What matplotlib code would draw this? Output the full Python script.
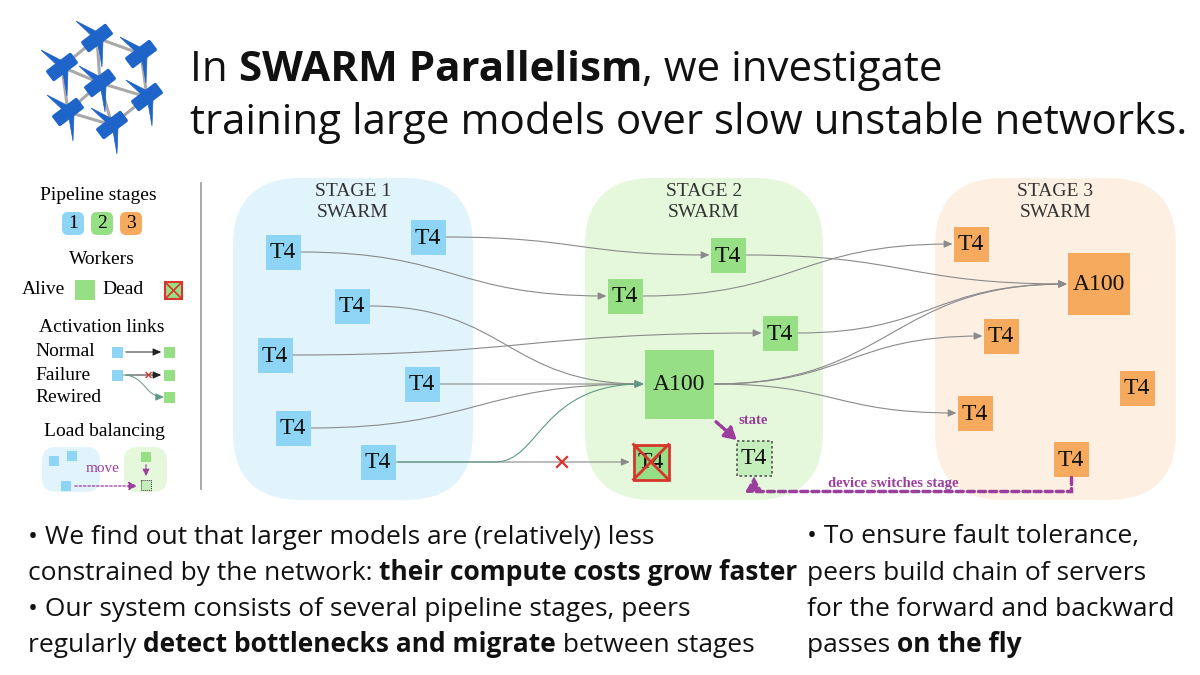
import matplotlib
matplotlib.use("Agg")
import matplotlib.pyplot as plt
from matplotlib.patches import FancyBboxPatch, Rectangle, FancyArrowPatch, Polygon
from matplotlib.path import Path
import numpy as np

SANS = ['Open Sans', 'DejaVu Sans']
SERIF = ['Liberation Serif', 'DejaVu Serif']

# ---- text content ----
title_lines = [
    [("In ", False), ("SWARM Parallelism", True), (", we investigate", False)],
    [("training large models over slow unstable networks.", False)],
]
left_lines = [
    [("\u2022 We find out that larger models are (relatively) less", False)],
    [("constrained by the network: ", False), ("their compute costs grow faster", True)],
    [("\u2022 Our system consists of several pipeline stages, peers", False)],
    [("regularly ", False), ("detect bottlenecks and migrate", True), (" between stages", False)],
]
right_lines = [
    [("\u2022 To ensure fault tolerance,", False)],
    [("peers build chain of servers", False)],
    [("for the forward and backward", False)],
    [("passes ", False), ("on the fly", True)],
]

# ---- diagram data ----
stage_names = ["STAGE 1\nSWARM", "STAGE 2\nSWARM", "STAGE 3\nSWARM"]
stage_left = [233, 585, 935]
stage_right = [473, 823, 1176]
region_colors = ["#e1f4fc", "#e5f8dc", "#fdf0e3"]
node_colors = ["#8dd4f5", "#96df84", "#f5aa5e"]

# name: (label, stage, x, y, size)
nodes = {
    "1a": ("T4", 0, 428, 237, 35), "1b": ("T4", 0, 283, 252, 35),
    "1c": ("T4", 0, 352, 306, 35), "1d": ("T4", 0, 275, 355, 35),
    "1e": ("T4", 0, 422, 384, 35), "1f": ("T4", 0, 293, 428, 35),
    "1g": ("T4", 0, 378, 462, 35),
    "2a": ("T4", 1, 728, 255, 35), "2b": ("T4", 1, 625, 296, 35),
    "2c": ("T4", 1, 780, 333, 35), "2d": ("A100", 1, 679, 384, 69),
    "3a": ("T4", 2, 971, 244, 35), "3b": ("A100", 2, 1099, 284, 62),
    "3c": ("T4", 2, 1001, 336, 35), "3d": ("T4", 2, 1137, 388, 35),
    "3e": ("T4", 2, 975, 413, 35), "3f": ("T4", 2, 1071, 459, 35),
}
dead_node = ("T4", 651, 462, 35)
moved_node = ("T4", 754, 458, 35)
edges = [("1a", "2a"), ("1b", "2b"), ("1c", "2d"), ("1d", "2c"), ("1e", "2d"),
         ("1f", "2d"), ("2a", "3b"), ("2b", "3a"), ("2c", "3b"), ("2d", "3b"),
         ("2d", "3c"), ("2d", "3e")]

# logo lattice
logo_nodes = [(97, 38), (141, 54), (62, 67), (100, 83), (147, 97), (68, 112), (112, 125)]
logo_links = [(0, 1), (0, 2), (0, 3), (2, 3), (1, 4), (3, 4), (2, 5), (3, 6), (5, 6),
              (4, 6), (5, 3)]

PURPLE = "#9c3f9c"
GRAY = "#8a8a8a"
RED = "#d8352c"

fig = plt.figure(figsize=(12, 6.75), dpi=100)
ax = fig.add_axes([0, 0, 1, 1])
ax.set_xlim(0, 1200)
ax.set_ylim(675, 0)
ax.axis('off')
renderer = fig.canvas.get_renderer()


def text_width(s, size, bold, family):
    t = ax.text(0, 0, s + "|", fontsize=size, fontweight='bold' if bold else 'normal', family=family)
    t2 = ax.text(0, 0, "|", fontsize=size, fontweight='bold' if bold else 'normal', family=family)
    w = t.get_window_extent(renderer).width - t2.get_window_extent(renderer).width
    t.remove()
    t2.remove()
    return w


def rich_line(x, y, parts, size, family=SANS, color='#111111', va='center'):
    for s, b in parts:
        ax.text(x, y, s, fontsize=size, fontweight='bold' if b else 'normal',
                family=family, ha='left', va=va, color=color)
        x += text_width(s, size, b, family)


def curve(x0, y0, x1, y1, color=GRAY, lw=0.8, z=2):
    xm = (x0 + x1) / 2
    p = Path([(x0, y0), (xm, y0), (xm, y1), (x1, y1)],
             [Path.MOVETO, Path.CURVE4, Path.CURVE4, Path.CURVE4])
    ax.add_patch(FancyArrowPatch(path=p, arrowstyle='-|>,head_length=5,head_width=2.2',
                                 color=color, lw=lw, mutation_scale=1, zorder=z))


def box(cx, cy, s, fc, label, ec='none', ls='-', lw=0, fs=17, z=3):
    ax.add_patch(Rectangle((cx - s / 2, cy - s / 2), s, s, fc=fc, ec=ec, ls=ls, lw=lw, zorder=z))
    if label:
        ax.text(cx, cy + 1, label, ha='center', va='center', fontsize=fs, family=SERIF,
                color='#111111', zorder=z + 1)


# ---- logo ----
for a, b in logo_links:
    ax.plot([logo_nodes[a][0], logo_nodes[b][0]], [logo_nodes[a][1], logo_nodes[b][1]],
            color='#a9a9a9', lw=2.2, zorder=1)
BLUE = "#1f64c8"
for cx, cy in logo_nodes:
    ang = np.deg2rad(-37)
    d = np.array([np.cos(ang), np.sin(ang)])
    n = np.array([-d[1], d[0]])
    c = np.array([cx, cy])
    body = [c - 14 * d - 5 * n, c + 14 * d - 5 * n, c + 14 * d + 5 * n, c - 14 * d + 5 * n]
    ax.add_patch(Polygon(body, closed=True, fc=BLUE, ec=BLUE, lw=2.5, joinstyle='round', zorder=2))
    ax.add_patch(Polygon([(cx + 1.5, cy - 5.5), (cx - 3.5, cy - 0.5), (cx - 21, cy - 17)],
                         closed=True, fc=BLUE, ec=BLUE, lw=0.5, zorder=2))
    ax.add_patch(Polygon([(cx + 0.5, cy + 3), (cx + 6, cy + 3), (cx + 5, cy + 29)],
                         closed=True, fc=BLUE, ec=BLUE, lw=0.5, zorder=2))

# ---- title ----
rich_line(190, 81, title_lines[0], 30.3, va='baseline')
rich_line(190, 134, title_lines[1], 30.3, va='baseline')

# ---- stage regions ----
for i in range(3):
    w = stage_right[i] - stage_left[i]
    ax.add_patch(FancyBboxPatch((stage_left[i], 178), w, 322,
                                boxstyle="round,pad=0,rounding_size=68",
                                fc=region_colors[i], ec='none', zorder=0))
    ax.text((stage_left[i] + stage_right[i]) / 2, 202, stage_names[i], ha='center', va='center',
            fontsize=14, family=SERIF, color='#333333', linespacing=1.3)

# ---- edges ----
for a, b in edges:
    la, _, xa, ya, sa = nodes[a]
    lb, _, xb, yb, sb = nodes[b]
    curve(xa + sa / 2, ya, xb - sb / 2 - 1, yb)

# failed link and rewired link
_, _, gx, gy, gs = nodes["1g"]
ax.add_patch(FancyArrowPatch((gx + gs / 2, gy), (dead_node[1] - dead_node[3] / 2 - 1, gy),
                             arrowstyle='-|>,head_length=5,head_width=2.2', mutation_scale=1,
                             color=GRAY, lw=0.8, zorder=2))
ax.plot([557, 567], [457, 467], color=RED, lw=1.6, zorder=3)
ax.plot([557, 567], [467, 457], color=RED, lw=1.6, zorder=3)
_, _, ax2, ay2, as2 = nodes["2d"]
rew = Path([(gx + gs / 2, gy), (495, gy), (540, gy), (540, ay2), (ax2 - as2 / 2 - 1, ay2)],
           [Path.MOVETO, Path.LINETO, Path.CURVE4, Path.CURVE4, Path.CURVE4])
ax.add_patch(FancyArrowPatch(path=rew, arrowstyle='-|>,head_length=5,head_width=2.2',
                             mutation_scale=1, color="#5f9a85", lw=0.8, zorder=2))

# ---- nodes ----
for key, (lab, st, x, y, s) in nodes.items():
    box(x, y, s, node_colors[st], lab)

lab, x, y, s = dead_node
box(x, y, s, node_colors[1], lab, ec=RED, lw=2)
ax.plot([x - s / 2, x + s / 2], [y - s / 2, y + s / 2], color=RED, lw=2, zorder=5)
ax.plot([x - s / 2, x + s / 2], [y + s / 2, y - s / 2], color=RED, lw=2, zorder=5)

lab, x, y, s = moved_node
box(x, y, s, "#c4eebb", lab, ec='#555555', ls=(0, (1.5, 1.5)), lw=1.2)

# state transfer
ax.add_patch(FancyArrowPatch((714, 420), (739, 442), arrowstyle='-|>,head_length=7,head_width=4',
                             mutation_scale=1, color=PURPLE, lw=2.5, ls=(0, (1, 0.6)), zorder=6))
ax.text(753, 421, "state", ha='center', va='center', fontsize=10.5, fontweight='bold',
        family=SERIF, color=PURPLE)

# device switches stage
_, _, fx, fy, fs_ = nodes["3f"]
sw = Path([(fx, fy + fs_ / 2), (fx, 491), (x, 491), (x, y + s / 2 + 1)],
          [Path.MOVETO, Path.LINETO, Path.LINETO, Path.LINETO])
ax.add_patch(FancyArrowPatch(path=sw, arrowstyle='-|>,head_length=8,head_width=4.5',
                             mutation_scale=1, color=PURPLE, lw=2.5, ls=(0, (2, 1.2)),
                             joinstyle='miter', zorder=6))
ax.text(893, 483, "device switches stage", ha='center', va='center', fontsize=10.5,
        fontweight='bold', family=SERIF, color=PURPLE)

# ---- legend ----
LF = 14
ax.plot([201, 201], [183, 489], color='#9a9a9a', lw=1.2)
ax.text(98, 196, "Pipeline stages", ha='center', va='center', fontsize=LF, family=SERIF)
for i, bx in enumerate([73, 102, 131]):
    ax.add_patch(FancyBboxPatch((bx - 11, 212), 22, 23, boxstyle="round,pad=0,rounding_size=6",
                                fc=node_colors[i], ec='none'))
    ax.text(bx, 224, str(i + 1), ha='center', va='center', fontsize=LF, family=SERIF)
ax.text(102, 259, "Workers", ha='center', va='center', fontsize=LF, family=SERIF)
ax.text(43, 290, "Alive", ha='center', va='center', fontsize=LF, family=SERIF)
ax.add_patch(Rectangle((75, 280), 20, 20, fc=node_colors[1], ec='none'))
ax.text(123, 290, "Dead", ha='center', va='center', fontsize=LF, family=SERIF)
ax.add_patch(Rectangle((165, 282), 17, 17, fc=node_colors[1], ec=RED, lw=1.5))
ax.plot([165, 182], [282, 299], color=RED, lw=1.2)
ax.plot([165, 182], [299, 282], color=RED, lw=1.2)

ax.text(102, 327, "Activation links", ha='center', va='center', fontsize=LF, family=SERIF)
for lbl, ly in [("Normal", 352), ("Failure", 375), ("Rewired", 397)]:
    ax.text(35, ly, lbl, ha='left', va='center', fontsize=LF, family=SERIF)
for ly in [352, 375, 397]:
    ax.add_patch(Rectangle((164, ly - 5.5), 11, 11, fc=node_colors[1], ec='none'))
for ly in [352, 375]:
    ax.add_patch(Rectangle((112, ly - 5.5), 11, 11, fc=node_colors[0], ec='none'))
    ax.add_patch(FancyArrowPatch((123, ly), (164, ly), arrowstyle='-|>,head_length=5,head_width=2.2',
                                 mutation_scale=1, color='#222222', lw=0.7))
ax.plot([146, 151], [372.5, 377.5], color=RED, lw=1)
ax.plot([146, 151], [377.5, 372.5], color=RED, lw=1)
ax.add_patch(FancyArrowPatch(path=Path([(123, 375), (145, 375), (145, 397), (164, 397)],
                                       [Path.MOVETO, Path.CURVE4, Path.CURVE4, Path.CURVE4]),
                             arrowstyle='-|>,head_length=5,head_width=2.2', mutation_scale=1,
                             color='#5f9a85', lw=0.7))

ax.text(104, 432, "Load balancing", ha='center', va='center', fontsize=LF, family=SERIF)
ax.add_patch(FancyBboxPatch((42, 447), 58, 45, boxstyle="round,pad=0,rounding_size=14",
                            fc=region_colors[0], ec='none'))
ax.add_patch(FancyBboxPatch((124, 447), 43, 45, boxstyle="round,pad=0,rounding_size=14",
                            fc=region_colors[1], ec='none'))
for bx, by in [(54, 461), (72, 456), (66, 486)]:
    ax.add_patch(Rectangle((bx - 5, by - 5), 10, 10, fc=node_colors[0], ec='none', zorder=2))
ax.add_patch(Rectangle((141, 452), 10, 10, fc=node_colors[1], ec='none', zorder=2))
ax.add_patch(Rectangle((141, 480), 10, 10, fc="#c4eebb", ec='#333333', lw=0.7,
                       ls=(0, (1, 1)), zorder=2))
ax.add_patch(FancyArrowPatch((146, 462), (146, 479), arrowstyle='-|>,head_length=4,head_width=2',
                             mutation_scale=1, color=PURPLE, lw=0.9, ls=(0, (1.5, 1)), zorder=3))
ax.add_patch(FancyArrowPatch((72, 486), (140, 486), arrowstyle='-|>,head_length=5,head_width=2.5',
                             mutation_scale=1, color=PURPLE, lw=0.9, ls=(0, (2, 1.5)), zorder=3))
ax.text(103, 469, "move", ha='center', va='center', fontsize=11, family=SERIF, color=PURPLE)

# ---- bottom text ----
for i, parts in enumerate(left_lines):
    rich_line(28, 537 + 36 * i, parts, 19)
for i, parts in enumerate(right_lines):
    rich_line(807, 537 + 36 * i, parts, 19)

fig.savefig("out.png", dpi=100, facecolor='white')
